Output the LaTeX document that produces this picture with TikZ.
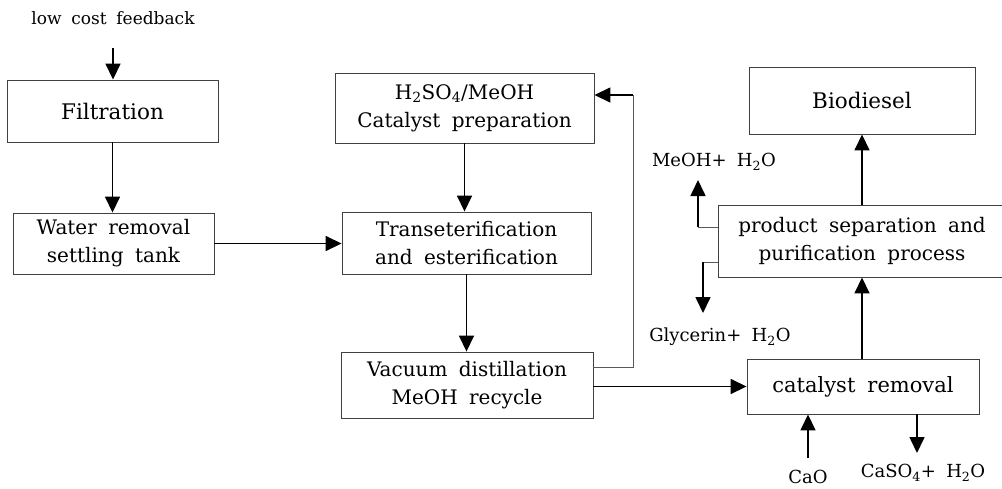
\documentclass[tikz,border=0pt]{standalone}
\usepackage{fontspec}
\setmainfont{DejaVu Serif}[WordSpace=1.8]
\usetikzlibrary{arrows.meta}

\begin{document}
\begin{tikzpicture}[x=1pt,y=-1pt,>={Triangle[length=16pt,width=15pt]},
  box/.style={draw=black!75,line width=0.9pt,fill=white,align=center,inner sep=0pt,font=\fontsize{20}{28}\selectfont},
  lbl/.style={inner sep=0pt,font=\fontsize{18}{22}\selectfont},
  flow/.style={->,line width=1.6pt},
  side/.style={draw=black!65,line width=0.9pt}]
\useasboundingbox (0,0) rectangle (1002,488);
% process boxes
\node[box,minimum width=211pt,minimum height=62pt,font=\fontsize{21.5}{26}\selectfont] (filt) at (112.5,111) {Filtration};
\node[box,minimum width=201pt,minimum height=61pt] (water) at (113.5,243.5) {Water removal\\settling tank};
\node[box,minimum width=259pt,minimum height=70pt] (cat) at (464.5,108) {H\textsubscript{2}SO\textsubscript{4}/MeOH\\Catalyst preparation};
\node[box,minimum width=249pt,minimum height=62pt] (trans) at (466.5,243) {Transeterification\\and esterification};
\node[box,minimum width=252pt,minimum height=66pt] (vac) at (467,385) {Vacuum distillation\\MeOH recycle};
\node[box,minimum width=232pt,minimum height=55pt,font=\fontsize{21}{26}\selectfont] (catrem) at (863,386.5) {catalyst removal};
\node[box,minimum width=288pt,minimum height=72pt] (prod) at (862,241) {product separation and\\purification process};
\node[box,minimum width=226pt,minimum height=67pt,font=\fontsize{21.5}{26}\selectfont] (bio) at (862,100.5) {Biodiesel};
% stream labels
\node[lbl,font=\fontsize{17}{20}\selectfont] (feed) at (113,18) {low cost feedback};
\node[lbl] (meoh) at (714,162) {MeOH+ H\textsubscript{2}O};
\node[lbl] (gly) at (720,337) {Glycerin+ H\textsubscript{2}O};
\node[lbl] (cao) at (808,477) {CaO};
\node[lbl] (caso) at (923,473) {CaSO\textsubscript{4}+ H\textsubscript{2}O};
% free ends
\coordinate (fd) at (113,48);
\coordinate (rcb) at (633,367);
\coordinate (rct) at (633,95);
\coordinate (mo) at (698,227);
\coordinate (moe) at (698,180);
\coordinate (gl) at (703,262);
\coordinate (gle) at (703,313);
\coordinate (co) at (808,458);
\coordinate (cs) at (917,453);
% main flow
\draw[flow] (fd) -- (fd |- filt.north);
\draw[flow] (filt.south) -- (filt.south |- water.north);
\draw[flow] (water.east) -- (water.east -| trans.west);
\draw[flow] (cat.south) -- (cat.south |- trans.north);
\draw[flow] (trans.south) -- (trans.south |- vac.north);
\draw[flow] (vac.east |- catrem.west) -- (catrem.west);
\draw[flow] (prod.south |- catrem.north) -- (prod.south);
\draw[flow] (prod.north) -- (bio.south);
% methanol recycle
\draw[side] (vac.east |- rcb) -- (rcb) -- (rct);
\draw[flow] (rct) -- (cat.east |- rct);
% side streams
\draw[side] (prod.west |- mo) -- (mo);
\draw[flow] (mo) -- (moe);
\draw[side] (prod.west |- gl) -- (gl);
\draw[flow] (gl) -- (gle);
\draw[flow] (co) -- (catrem.south -| co);
\draw[flow] (catrem.south -| cs) -- (cs);
\end{tikzpicture}
\end{document}
